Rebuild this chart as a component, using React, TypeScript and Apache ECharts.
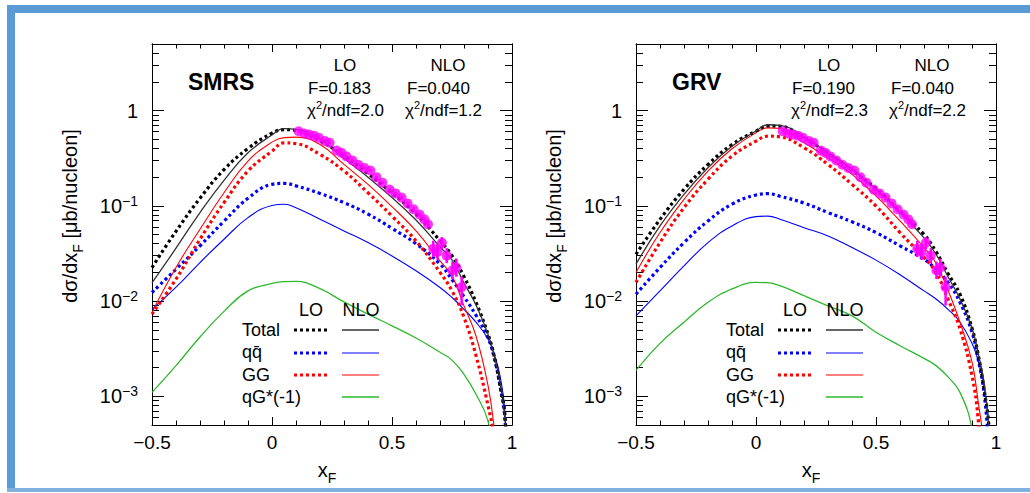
import { useEffect, useRef } from "react";
import * as echarts from "echarts";

const FONT = '"Liberation Sans", Arial, Helvetica, sans-serif';

// Common x_F grid on which the calculated cross sections are tabulated
const xF = [-0.5, -0.4, -0.3, -0.2, -0.1, 0, 0.05, 0.1, 0.2, 0.3, 0.4, 0.5, 0.6, 0.7, 0.75, 0.8, 0.85, 0.9, 0.925, 0.95, 0.97, 0.985];

// SMRS parton distributions, dσ/dx_F in μb/nucleon
const smrsTotalLO = [0.0225, 0.054, 0.12, 0.24, 0.4, 0.58, 0.63, 0.62, 0.48, 0.335, 0.218, 0.136, 0.082, 0.043, 0.03, 0.018, 0.0097, 0.0045, 0.0027, 0.0013, 0.00065, 0.0001];
const smrsTotalNLO = [0.0155, 0.036, 0.085, 0.185, 0.36, 0.555, 0.645, 0.635, 0.5, 0.315, 0.2, 0.122, 0.071, 0.037, 0.027, 0.0155, 0.0091, 0.0045, 0.0027, 0.0014, 0.0006, 0.0001];
const smrsQqLO = [0.0123, 0.0216, 0.038, 0.069, 0.12, 0.168, 0.172, 0.162, 0.135, 0.108, 0.082, 0.058, 0.04, 0.0245, 0.0168, 0.0111, 0.0071, 0.0041, 0.0026, 0.0013, 0.0006, 0.0001];
const smrsQqNLO = [0.0082, 0.014, 0.0254, 0.0446, 0.0752, 0.101, 0.104, 0.0957, 0.0722, 0.0545, 0.0411, 0.0298, 0.0208, 0.0139, 0.0109, 0.0082, 0.006, 0.004, 0.0028, 0.00165, 0.0007, 0.0001];
const smrsGgLO = [0.0073, 0.017, 0.0446, 0.108, 0.232, 0.375, 0.458, 0.45, 0.346, 0.232, 0.137, 0.078, 0.0428, 0.02, 0.0128, 0.00675, 0.00268, 0.0008, 0.00038, 0.0001, null, null];
const smrsGgNLO = [0.0076, 0.0225, 0.0568, 0.137, 0.295, 0.466, 0.52, 0.526, 0.44, 0.272, 0.168, 0.098, 0.0545, 0.0264, 0.0184, 0.0089, 0.0043, 0.0013, 0.00048, 0.0001, null, null];
const smrsQgNLO = [0.0011, 0.0021, 0.0042, 0.0078, 0.0128, 0.0153, 0.016, 0.0161, 0.0135, 0.0098, 0.0073, 0.0055, 0.0041, 0.0029, 0.0024, 0.0017, 0.00105, 0.00055, 0.0002, null, null, null];

// GRV parton distributions
const grvTotalLO = [0.031, 0.072, 0.149, 0.272, 0.44, 0.608, 0.69, 0.685, 0.515, 0.357, 0.236, 0.152, 0.088, 0.05, 0.033, 0.0195, 0.0118, 0.0052, 0.0028, 0.0012, 0.0005, 0.0001];
const grvTotalNLO = [0.0244, 0.0615, 0.132, 0.251, 0.423, 0.61, 0.71, 0.7, 0.53, 0.36, 0.244, 0.149, 0.085, 0.046, 0.031, 0.018, 0.0105, 0.0052, 0.0029, 0.0014, 0.0005, 0.0001];
const grvQqLO = [0.0118, 0.0225, 0.0411, 0.0694, 0.104, 0.13, 0.134, 0.126, 0.107, 0.085, 0.068, 0.0524, 0.038, 0.0275, 0.0216, 0.0157, 0.0097, 0.0047, 0.0025, 0.0011, 0.0003, null];
const grvQqNLO = [0.007, 0.0128, 0.0234, 0.0411, 0.0615, 0.077, 0.078, 0.0722, 0.059, 0.0483, 0.0365, 0.0269, 0.0189, 0.0128, 0.0105, 0.0082, 0.006, 0.0036, 0.0024, 0.0013, 0.00052, 0.0001];
const grvGgLO = [0.0157, 0.0411, 0.0957, 0.19, 0.333, 0.477, 0.539, 0.53, 0.407, 0.272, 0.168, 0.0995, 0.0524, 0.0286, 0.02, 0.0105, 0.0051, 0.00165, 0.0006, 0.0001, null, null];
const grvGgNLO = [0.02, 0.0524, 0.117, 0.232, 0.397, 0.584, 0.659, 0.648, 0.46, 0.32, 0.214, 0.127, 0.0694, 0.0365, 0.025, 0.013, 0.006, 0.0023, 0.0009, 0.0003, 0.00005, null];
const grvQgNLO = [0.00187, 0.0036, 0.006, 0.0097, 0.0134, 0.0157, 0.0156, 0.0145, 0.0114, 0.0089, 0.007, 0.0047, 0.0034, 0.0025, 0.0021, 0.0016, 0.0011, 0.00045, 0.0001, null, null, null];

// Measured points (same data in both panels) with error band limits
const measX = [0.111, 0.135, 0.155, 0.175, 0.195, 0.22, 0.24, 0.27, 0.29, 0.31, 0.335, 0.36, 0.385, 0.41, 0.435, 0.46, 0.49, 0.515, 0.54, 0.565, 0.59, 0.615, 0.635, 0.65, 0.672, 0.69, 0.708, 0.728, 0.752, 0.768, 0.79];
const measY = [0.607, 0.575, 0.56, 0.545, 0.52, 0.48, 0.46, 0.38, 0.36, 0.33, 0.3, 0.27, 0.25, 0.235, 0.2, 0.175, 0.148, 0.135, 0.122, 0.106, 0.092, 0.081, 0.072, 0.064, 0.0355, 0.033, 0.041, 0.03, 0.021, 0.0225, 0.014];
const measLo = [0.59, 0.56, 0.545, 0.53, 0.505, 0.465, 0.445, 0.368, 0.348, 0.319, 0.29, 0.26, 0.241, 0.226, 0.192, 0.168, 0.142, 0.129, 0.116, 0.101, 0.087, 0.077, 0.068, 0.06, 0.029, 0.027, 0.035, 0.025, 0.017, 0.018, 0.009];
const measHi = [0.625, 0.59, 0.575, 0.56, 0.535, 0.495, 0.475, 0.392, 0.372, 0.341, 0.31, 0.28, 0.259, 0.244, 0.208, 0.182, 0.154, 0.141, 0.128, 0.111, 0.097, 0.085, 0.076, 0.068, 0.043, 0.04, 0.047, 0.036, 0.026, 0.028, 0.018];

const yTickValues = [-3, -2, -1, 0];

const LMIN = Math.log10(5e-4);
const LMAX = Math.log10(5);
const MINOR: number[] = [];
for (let e = -4; e <= 0; e++) {
  for (let k = 2; k <= 9; k++) {
    const v = Math.log10(k) + e;
    if (v > LMIN + 1e-6 && v < LMAX - 1e-6) MINOR.push(v);
  }
}

const PANELS = [
  {
    name: "SMRS", left: 152, ox: 0, fLO: "0.183", fNLO: "0.040", chiLO: "2.0", chiNLO: "1.2",
    totalLO: smrsTotalLO, totalNLO: smrsTotalNLO, qqLO: smrsQqLO, qqNLO: smrsQqNLO,
    ggLO: smrsGgLO, ggNLO: smrsGgNLO, qgNLO: smrsQgNLO,
  },
  {
    name: "GRV", left: 636, ox: 484, fLO: "0.190", fNLO: "0.040", chiLO: "2.3", chiNLO: "2.2",
    totalLO: grvTotalLO, totalNLO: grvTotalNLO, qqLO: grvQqLO, qqNLO: grvQqNLO,
    ggLO: grvGgLO, ggNLO: grvGgNLO, qgNLO: grvQgNLO,
  },
];

const C_BLACK = "#000000";
const C_BLACK_SOLID = "#333333";
const C_BLUE = "#0000ff";
const C_RED = "#ff0000";
const C_GREEN = "#2eb82e";
const C_DATA = "#ff00ff";
const DOT = [3, 3];

function toPairs(ys: (number | null)[]) {
  const out: number[][] = [];
  xF.forEach((x, i) => {
    const v = ys[i];
    if (v != null) out.push([x, Math.log10(v)]);
  });
  return out;
}

function curve(p: number, ys: (number | null)[], color: string, dotted: boolean, width: number, z: number) {
  return {
    type: "line",
    xAxisIndex: 2 * p,
    yAxisIndex: 4 * p,
    data: toPairs(ys),
    showSymbol: false,
    symbol: "none",
    smooth: 0.45,
    clip: true,
    silent: true,
    z,
    lineStyle: { color, width, type: dotted ? DOT : "solid", cap: "butt" },
  };
}

function xAxis(p: number, position: string, labels: boolean) {
  return {
    type: "value",
    gridIndex: p,
    position,
    min: -0.5,
    max: 1,
    interval: 0.5,
    axisLine: { show: true, onZero: false, lineStyle: { color: "#000", width: 1 } },
    axisTick: { show: true, inside: true, length: 8, lineStyle: { color: "#000" } },
    minorTick: { show: true, splitNumber: 5, length: 4.5, lineStyle: { color: "#000" } },
    splitLine: { show: false },
    minorSplitLine: { show: false },
    axisLabel: {
      show: labels,
      margin: 8,
      color: "#000",
      fontFamily: FONT,
      fontSize: 19,
      formatter: (v: number) => (v < 0 ? "\u2212" + Math.abs(v) : String(v)),
    },
  };
}

function yAxis(p: number, position: string, ticks: number[], len: number, labels: boolean) {
  return {
    type: "value",
    gridIndex: p,
    position,
    min: LMIN,
    max: LMAX,
    axisLine: { show: true, onZero: false, lineStyle: { color: "#000", width: 1 } },
    axisTick: { show: true, inside: true, length: len, customValues: ticks, lineStyle: { color: "#000" } },
    splitLine: { show: false },
    axisLabel: {
      show: labels,
      customValues: yTickValues,
      margin: 14,
      color: "#000",
      fontFamily: FONT,
      fontSize: 20,
      lineHeight: 24,
      formatter: (v: number) => {
        const e = Math.round(v);
        return e === 0 ? "1" : `10{s|\u2212${-e}}`;
      },
      rich: { s: { fontSize: 14, lineHeight: 14, verticalAlign: "top", fontFamily: FONT, color: "#000" } },
    },
  };
}

function txt(x: number, y: number, text: string, size: number, extra: any = {}, el: any = {}) {
  return {
    type: "text",
    x,
    y,
    silent: true,
    z: 50,
    ...el,
    style: { text, fontFamily: FONT, fontSize: size, fill: "#000", align: "left", verticalAlign: "middle", ...extra },
  };
}

function hline(x1: number, x2: number, y: number, color: string, dotted: boolean, width: number) {
  return {
    type: "line",
    silent: true,
    z: 50,
    shape: { x1, y1: y, x2, y2: y },
    style: { stroke: color, lineWidth: width, lineDash: dotted ? DOT : null },
  };
}

const supRich = { s: { fontSize: 11, lineHeight: 11, verticalAlign: "top", fontFamily: FONT, fill: "#000" } };
const subRich = { s: { fontSize: 14, lineHeight: 14, verticalAlign: "bottom", fontFamily: FONT, fill: "#000" } };

function panelGraphics(pn: typeof PANELS[number]) {
  const o = pn.ox;
  const els: any[] = [
    txt(188 + o, 82, pn.name, 23, { fontWeight: "bold" }),
    txt(345 + o, 65, "LO", 17, { align: "center" }),
    txt(448 + o, 65, "NLO", 17, { align: "center" }),
    txt(308 + o, 88, "F=" + pn.fLO, 17),
    txt(407 + o, 88, "F=" + pn.fNLO, 17),
    txt(307 + o, 110, "\u03c7{s|2}/ndf=" + pn.chiLO, 17, { rich: supRich, lineHeight: 22 }),
    txt(405 + o, 110, "\u03c7{s|2}/ndf=" + pn.chiNLO, 17, { rich: supRich, lineHeight: 22 }),
    // legend table
    txt(311 + o, 310, "LO", 18, { align: "center" }),
    txt(361 + o, 310, "NLO", 18, { align: "center" }),
    txt(242 + o, 330, "Total", 18),
    txt(242 + o, 352, "qq\u0304", 18),
    txt(242 + o, 375, "GG", 18),
    txt(242 + o, 397, "qG*(-1)", 18),
    hline(294 + o, 329 + o, 330, C_BLACK, true, 3.2),
    hline(342 + o, 379 + o, 330, C_BLACK_SOLID, false, 1.3),
    hline(294 + o, 329 + o, 353, C_BLUE, true, 3.2),
    hline(342 + o, 379 + o, 353, C_BLUE, false, 1.1),
    hline(294 + o, 329 + o, 375, C_RED, true, 3.2),
    hline(342 + o, 379 + o, 375, C_RED, false, 1.1),
    hline(342 + o, 379 + o, 397, C_GREEN, false, 1.3),
    // axis titles
    txt(327 + o, 470, "x{s|F}", 20, { align: "center", rich: subRich, lineHeight: 30 }),
    txt(70 + o, 216, "d\u03c3/dx{s|F} [\u03bcb/nucleon]", 20, { align: "center", rich: subRich, lineHeight: 30 }, { rotation: Math.PI / 2 }),
  ];
  return els;
}

function buildOption() {
  const grid = PANELS.map((pn) => ({ left: pn.left, top: 44, width: 360, height: 381 }));
  const xAxes: any[] = [];
  const yAxes: any[] = [];
  const series: any[] = [];
  const graphics: any[] = [
    { type: "rect", silent: true, z: 1, shape: { x: 7, y: 5, width: 1023, height: 8 }, style: { fill: "#5b9bd5" } },
    { type: "rect", silent: true, z: 1, shape: { x: 7, y: 5, width: 8, height: 487 }, style: { fill: "#5b9bd5" } },
    { type: "rect", silent: true, z: 1, shape: { x: 7, y: 488, width: 1023, height: 4 }, style: { fill: "#7fb0de" } },
  ];

  PANELS.forEach((pn, p) => {
    xAxes.push(xAxis(p, "bottom", true), xAxis(p, "top", false));
    yAxes.push(
      yAxis(p, "left", yTickValues, 12, true),
      yAxis(p, "left", MINOR, 7, false),
      yAxis(p, "right", yTickValues, 12, false),
      yAxis(p, "right", MINOR, 7, false)
    );
    series.push(
      curve(p, pn.qgNLO, C_GREEN, false, 1.3, 2),
      curve(p, pn.qqNLO, C_BLUE, false, 1.1, 3),
      curve(p, pn.qqLO, C_BLUE, true, 3.2, 3),
      curve(p, pn.ggLO, C_RED, true, 3.2, 4),
      curve(p, pn.ggNLO, C_RED, false, 1.1, 4),
      curve(p, pn.totalLO, C_BLACK, true, 3.2, 5),
      curve(p, pn.totalNLO, C_BLACK_SOLID, false, 1.3, 5),
      {
        type: "custom",
        xAxisIndex: 2 * p,
        yAxisIndex: 4 * p,
        silent: true,
        z: 8,
        clip: true,
        data: measX.map((x, i) => [x, Math.log10(measLo[i]), Math.log10(measHi[i])]),
        encode: { x: 0, y: [1, 2] },
        renderItem: (_params: any, api: any) => {
          const a = api.coord([api.value(0), api.value(1)]);
          const b = api.coord([api.value(0), api.value(2)]);
          return {
            type: "line",
            shape: { x1: a[0], y1: a[1], x2: b[0], y2: b[1] },
            style: { stroke: C_DATA, lineWidth: 2.5 },
          };
        },
      },
      {
        type: "scatter",
        xAxisIndex: 2 * p,
        yAxisIndex: 4 * p,
        silent: true,
        z: 9,
        symbol: "circle",
        symbolSize: 10,
        itemStyle: { color: C_DATA },
        data: measX.map((x, i) => [x, Math.log10(measY[i])]),
      }
    );
    graphics.push(...panelGraphics(pn));
  });

  return {
    animation: false,
    backgroundColor: "#ffffff",
    grid,
    xAxis: xAxes,
    yAxis: yAxes,
    series,
    graphic: { elements: graphics },
  };
}

export default function App() {
  const ref = useRef<HTMLDivElement>(null);
  useEffect(() => {
    const chart = echarts.init(ref.current!, undefined, { renderer: "svg" });
    chart.setOption(buildOption() as any);
    return () => chart.dispose();
  }, []);
  return (
    <div
      ref={ref}
      style={{ position: "absolute", left: 0, top: 0, width: 1030, height: 493, background: "#ffffff" }}
    />
  );
}
